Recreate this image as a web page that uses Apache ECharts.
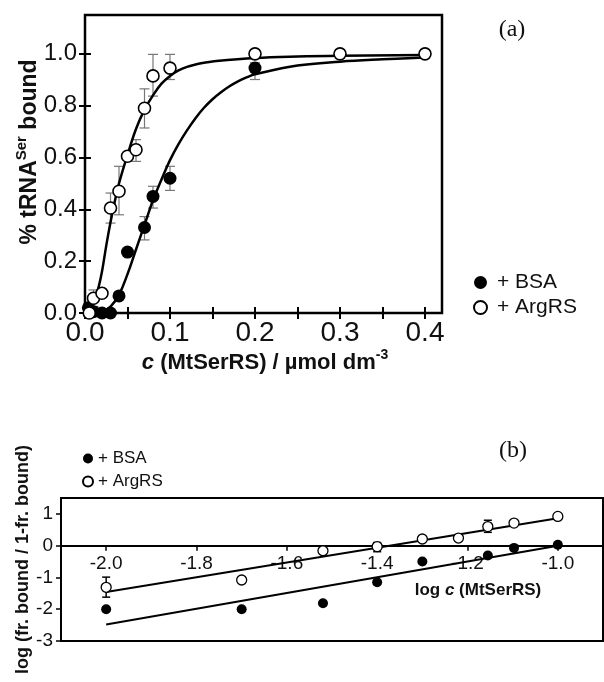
<!DOCTYPE html>
<html>
<head>
<meta charset="utf-8">
<script src="https://cdn.jsdelivr.net/npm/echarts@6/dist/echarts.min.js"></script>
<style>
html,body{margin:0;padding:0;background:#fff;}
#chart{width:604px;height:682px;}
</style>
</head>
<body>
<div id="chart"></div>
<script>
// ---------- Panel (a): fraction bound vs concentration ----------
const bsaConc  = [0.004, 0.01, 0.02, 0.03, 0.04, 0.05, 0.07, 0.08, 0.1, 0.2];
const bsaBound = [0.02, 0.005, 0.0, 0.0, 0.066, 0.235, 0.33, 0.45, 0.52, 0.945];
const bsaErrConc = [0.07, 0.08, 0.1, 0.2];
const bsaErrLow  = [0.282, 0.405, 0.473, 0.901];
const bsaErrHigh = [0.372, 0.489, 0.566, 0.966];

const argConc  = [0.005, 0.01, 0.02, 0.03, 0.04, 0.05, 0.06, 0.07, 0.08, 0.1, 0.2, 0.3, 0.4];
const argBound = [0.0, 0.057, 0.076, 0.405, 0.47, 0.605, 0.63, 0.79, 0.915, 0.945, 1.0, 1.0, 1.0];
const argErrConc = [0.01, 0.03, 0.04, 0.06, 0.07, 0.08, 0.1];
const argErrLow  = [0.025, 0.347, 0.379, 0.585, 0.714, 0.837, 0.901];
const argErrHigh = [0.089, 0.463, 0.566, 0.669, 0.865, 0.998, 0.998];

// fitted curves
const bsaFitConc  = [0.015, 0.02, 0.03, 0.04, 0.05, 0.06, 0.07, 0.08, 0.09, 0.1, 0.11, 0.12, 0.13, 0.14, 0.15, 0.16, 0.17, 0.18, 0.19, 0.2, 0.25, 0.3, 0.35, 0.4];
const bsaFitBound = [0.0, 0.005, 0.025, 0.07, 0.15, 0.245, 0.34, 0.435, 0.515, 0.59, 0.652, 0.705, 0.752, 0.792, 0.825, 0.852, 0.875, 0.894, 0.909, 0.921, 0.955, 0.970, 0.979, 0.986];
const argFitConc  = [0.004, 0.008, 0.012, 0.016, 0.02, 0.025, 0.03, 0.035, 0.04, 0.05, 0.06, 0.07, 0.08, 0.09, 0.1, 0.11, 0.12, 0.13, 0.14, 0.15, 0.2, 0.25, 0.3, 0.4];
const argFitBound = [0.0, 0.02, 0.06, 0.1, 0.16, 0.26, 0.35, 0.43, 0.5, 0.61, 0.71, 0.785, 0.84, 0.885, 0.915, 0.936, 0.95, 0.959, 0.966, 0.971, 0.984, 0.99, 0.993, 0.996];

const aXTicks  = [0, 0.05, 0.1, 0.15, 0.2, 0.25, 0.3, 0.35, 0.4];
const aXLabels = [0, 0.1, 0.2, 0.3, 0.4];
const aYTicks  = [0, 0.2, 0.4, 0.6, 0.8, 1.0];

// ---------- Panel (b): Hill plot ----------
const logCBsa = [-2.0, -1.7, -1.52, -1.4, -1.3, -1.155, -1.097, -1.0];
const logRBsa = [-2.0, -2.0, -1.81, -1.15, -0.5, -0.31, -0.07, 0.03];
const logCArg = [-2.0, -1.7, -1.52, -1.4, -1.3, -1.22, -1.155, -1.097, -1.0];
const logRArg = [-1.31, -1.08, -0.16, -0.03, 0.21, 0.24, 0.6, 0.71, 0.92];
const logErrConc = [-2.0, -1.4, -1.155];
const logErrLow  = [-1.62, -0.19, 0.42];
const logErrHigh = [-0.99, 0.10, 0.80];
const bsaLineX = [-2.0, -1.0];
const bsaLineY = [-2.48, 0.0];
const argLineX = [-2.0, -1.0];
const argLineY = [-1.46, 0.86];

const bXTicks = [-2.0, -1.8, -1.6, -1.4, -1.2, -1.0];
const bYTicks = [-3, -2, -1, 0, 1];

const zip2 = (a, b) => a.map((v, i) => [v, b[i]]);
const zip3 = (a, b, c) => a.map((v, i) => [v, b[i], c[i]]);

const SANS = "'Liberation Sans', Arial, sans-serif";
const SERIF = "'Liberation Serif', 'Times New Roman', serif";

// panel (b) geometry: x axis sits on y = 0
const bTop = 498, bHeight = 143, bYMin = -3, bYMax = 1.5;
const bZeroOffset = -(bHeight * (0 - bYMin) / (bYMax - bYMin));

function errRender(capW, color, width) {
  return function (params, api) {
    const x = api.value(0), lo = api.value(1), hi = api.value(2);
    const pLo = api.coord([x, lo]);
    const pHi = api.coord([x, hi]);
    const style = { stroke: color, lineWidth: width, fill: null };
    return {
      type: 'group',
      children: [
        { type: 'line', shape: { x1: pLo[0], y1: pLo[1], x2: pHi[0], y2: pHi[1] }, style: style },
        { type: 'line', shape: { x1: pLo[0] - capW, y1: pLo[1], x2: pLo[0] + capW, y2: pLo[1] }, style: style },
        { type: 'line', shape: { x1: pHi[0] - capW, y1: pHi[1], x2: pHi[0] + capW, y2: pHi[1] }, style: style }
      ]
    };
  };
}

const tickStyleA = { color: '#000', width: 2 };

const option = {
  animation: false,
  backgroundColor: '#fff',
  grid: [
    { left: 85, top: 15, width: 357, height: 298, show: true, borderColor: '#000', borderWidth: 2.5, backgroundColor: 'transparent' },
    { left: 61, top: bTop, width: 542, height: bHeight, show: true, borderColor: '#000', borderWidth: 2, backgroundColor: 'transparent' }
  ],
  xAxis: [
    {
      gridIndex: 0, type: 'value', min: 0, max: 0.42, position: 'bottom',
      axisLine: { show: false },
      axisTick: { inside: true, length: 6, lineStyle: tickStyleA, customValues: aXTicks },
      axisLabel: { customValues: aXLabels, formatter: v => v.toFixed(1), fontSize: 28, color: '#111', fontFamily: SANS, margin: 6 },
      splitLine: { show: false }
    },
    {
      gridIndex: 0, type: 'value', min: 0, max: 0.42, position: 'top',
      axisLine: { show: false },
      axisTick: { inside: true, length: 6, lineStyle: tickStyleA, customValues: aXTicks },
      axisLabel: { show: false },
      splitLine: { show: false }
    },
    {
      gridIndex: 1, type: 'value', min: -2.1, max: -0.9, position: 'bottom', offset: bZeroOffset,
      axisLine: { show: true, onZero: false, lineStyle: { color: '#000', width: 2 } },
      axisTick: { inside: false, length: 5, lineStyle: { color: '#000', width: 1.5 }, customValues: bXTicks },
      axisLabel: { customValues: bXTicks, formatter: v => v.toFixed(1), fontSize: 19, color: '#111', fontFamily: SANS, margin: 9 },
      splitLine: { show: false }
    }
  ],
  yAxis: [
    {
      gridIndex: 0, type: 'value', min: 0, max: 1.15, position: 'left',
      axisLine: { show: false },
      axisTick: { inside: true, length: 6, lineStyle: tickStyleA, customValues: aYTicks },
      axisLabel: { customValues: aYTicks, formatter: v => v.toFixed(1), fontSize: 24, color: '#111', fontFamily: SANS, margin: 8 },
      splitLine: { show: false }
    },
    {
      gridIndex: 0, type: 'value', min: 0, max: 1.15, position: 'right',
      axisLine: { show: false },
      axisTick: { inside: true, length: 6, lineStyle: tickStyleA, customValues: aYTicks },
      axisLabel: { show: false },
      splitLine: { show: false }
    },
    {
      gridIndex: 1, type: 'value', min: bYMin, max: bYMax, position: 'left',
      axisLine: { show: false },
      axisTick: { inside: false, length: 5, lineStyle: { color: '#000', width: 1.5 }, customValues: bYTicks },
      axisLabel: { customValues: bYTicks, fontSize: 19, color: '#111', fontFamily: SANS, margin: 8 },
      splitLine: { show: false }
    }
  ],
  legend: [
    {
      orient: 'vertical', left: 468, top: 267, itemWidth: 13, itemHeight: 13, itemGap: 4,
      selectedMode: false,
      data: ['+ BSA', '+ ArgRS'],
      textStyle: { fontSize: 21, color: '#111', fontFamily: SANS, padding: [0, 0, 0, 5] }
    },
    {
      orient: 'vertical', left: 77, top: 445, itemWidth: 10, itemHeight: 10, itemGap: 6,
      selectedMode: false,
      data: ['+ BSA', '+ ArgRS'],
      textStyle: { fontSize: 17, color: '#111', fontFamily: SANS }
    }
  ],
  graphic: [
    { type: 'text', x: 512, y: 30, style: { text: '(a)', font: '24px ' + SERIF, fill: '#111', align: 'center', verticalAlign: 'middle' } },
    { type: 'text', x: 513, y: 451, style: { text: '(b)', font: '24px ' + SERIF, fill: '#111', align: 'center', verticalAlign: 'middle' } },
    {
      type: 'text', x: 265, y: 363,
      style: {
        text: '{i|c} (MtSerRS) / µmol dm{s|-3}',
        font: 'bold 22px ' + SANS, fill: '#111', align: 'center', verticalAlign: 'middle',
        rich: {
          i: { fontStyle: 'italic', fontWeight: 'bold', fontSize: 22, fontFamily: SANS },
          s: { fontWeight: 'bold', fontSize: 14, fontFamily: SANS, padding: [0, 0, 16, 0] }
        }
      }
    },
    {
      type: 'text', x: 30, y: 152, rotation: Math.PI / 2,
      style: {
        text: '% tRNA{s|Ser} bound',
        font: 'bold 23px ' + SANS, fill: '#111', align: 'center', verticalAlign: 'middle',
        rich: {
          s: { fontWeight: 'bold', fontSize: 15, fontFamily: SANS, padding: [0, 0, 16, 0] }
        }
      }
    },
    {
      type: 'text', x: 478, y: 590,
      style: {
        text: 'log {i|c} (MtSerRS)',
        font: 'bold 17px ' + SANS, fill: '#111', align: 'center', verticalAlign: 'middle',
        rich: { i: { fontStyle: 'italic', fontWeight: 'bold', fontSize: 17, fontFamily: SANS } }
      }
    },
    {
      type: 'text', x: 23, y: 445, rotation: Math.PI / 2,
      style: {
        text: 'log (fr. bound / 1-fr. bound)',
        font: 'bold 18px ' + SANS, fill: '#111', align: 'right', verticalAlign: 'middle'
      }
    }
  ],
  series: [
    // panel (a)
    { type: 'custom', name: 'BSA err', xAxisIndex: 0, yAxisIndex: 0, renderItem: errRender(5, '#777', 1.2), data: zip3(bsaErrConc, bsaErrLow, bsaErrHigh), encode: { x: 0, y: [1, 2] }, z: 1 },
    { type: 'custom', name: 'ArgRS err', xAxisIndex: 0, yAxisIndex: 0, renderItem: errRender(5, '#777', 1.2), data: zip3(argErrConc, argErrLow, argErrHigh), encode: { x: 0, y: [1, 2] }, z: 1 },
    { type: 'line', name: 'BSA fit', xAxisIndex: 0, yAxisIndex: 0, data: zip2(bsaFitConc, bsaFitBound), smooth: 0.4, showSymbol: false, lineStyle: { color: '#000', width: 2.5 }, z: 2 },
    { type: 'line', name: 'ArgRS fit', xAxisIndex: 0, yAxisIndex: 0, data: zip2(argFitConc, argFitBound), smooth: 0.4, showSymbol: false, lineStyle: { color: '#000', width: 2.5 }, z: 2 },
    { type: 'scatter', name: '+ BSA', xAxisIndex: 0, yAxisIndex: 0, data: zip2(bsaConc, bsaBound), symbol: 'circle', symbolSize: 13, itemStyle: { color: '#000', opacity: 1 }, z: 3 },
    { type: 'scatter', name: '+ ArgRS', xAxisIndex: 0, yAxisIndex: 0, data: zip2(argConc, argBound), symbol: 'circle', symbolSize: 12, itemStyle: { color: '#fff', borderColor: '#000', borderWidth: 1.6, opacity: 1 }, z: 4 },
    // panel (b)
    { type: 'custom', name: 'log err', xAxisIndex: 2, yAxisIndex: 2, renderItem: errRender(4, '#000', 1.5), data: zip3(logErrConc, logErrLow, logErrHigh), encode: { x: 0, y: [1, 2] }, z: 1 },
    { type: 'line', name: 'BSA line', xAxisIndex: 2, yAxisIndex: 2, data: zip2(bsaLineX, bsaLineY), showSymbol: false, lineStyle: { color: '#000', width: 2 }, z: 2 },
    { type: 'line', name: 'ArgRS line', xAxisIndex: 2, yAxisIndex: 2, data: zip2(argLineX, argLineY), showSymbol: false, lineStyle: { color: '#000', width: 2 }, z: 2 },
    { type: 'scatter', name: '+ BSA', xAxisIndex: 2, yAxisIndex: 2, data: zip2(logCBsa, logRBsa), symbol: 'circle', symbolSize: 10, itemStyle: { color: '#000', opacity: 1 }, z: 3 },
    { type: 'scatter', name: '+ ArgRS', xAxisIndex: 2, yAxisIndex: 2, data: zip2(logCArg, logRArg), symbol: 'circle', symbolSize: 10, itemStyle: { color: '#fff', borderColor: '#000', borderWidth: 1.3, opacity: 1 }, z: 4 }
  ]
};

const chart = echarts.init(document.getElementById('chart'), null, { renderer: 'canvas' });
chart.setOption(option);
</script>
</body>
</html>
